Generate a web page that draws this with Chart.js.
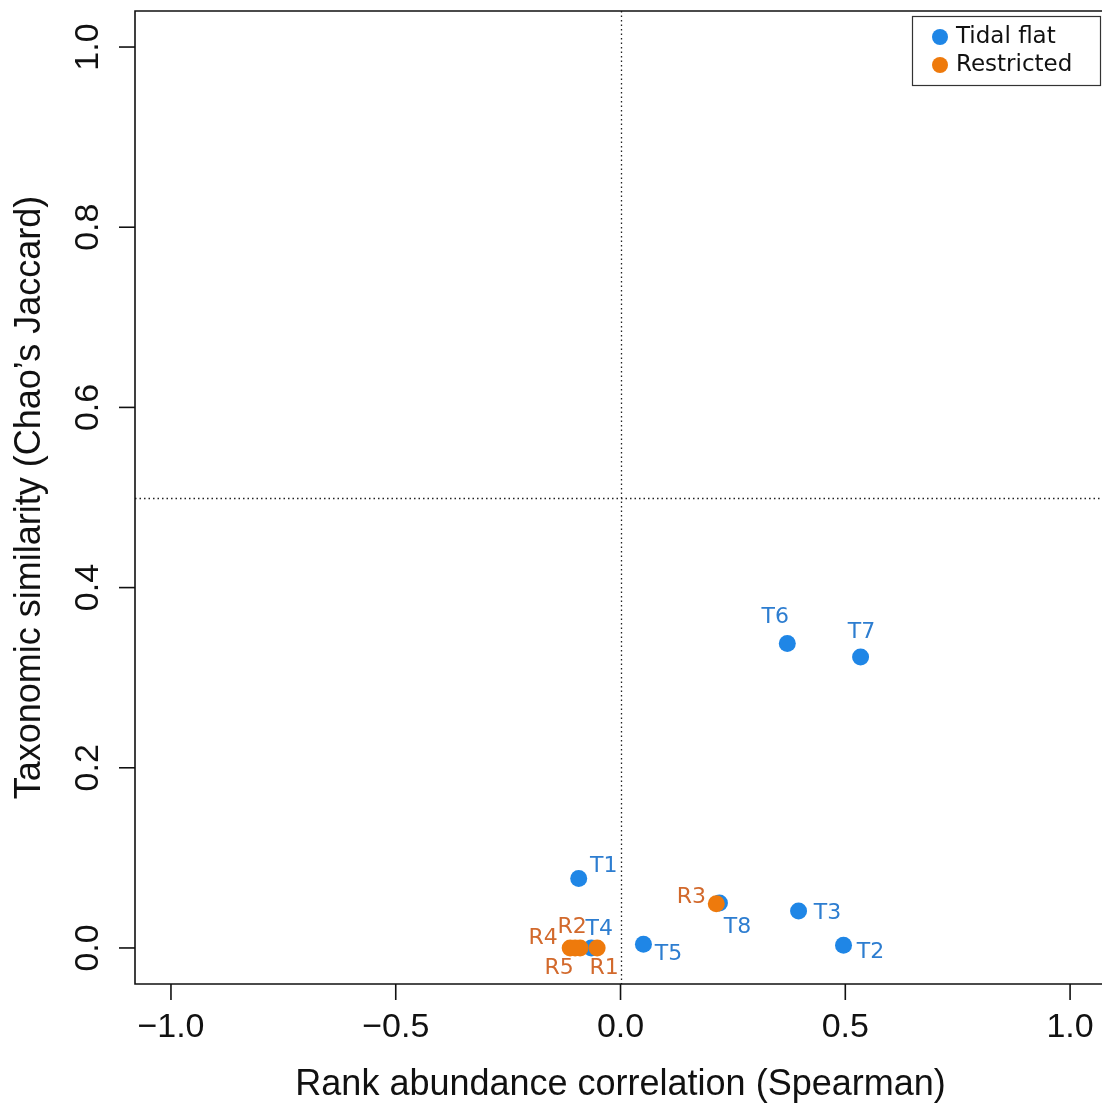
<!DOCTYPE html>
<html>
<head>
<meta charset="utf-8">
<script src="https://cdn.jsdelivr.net/npm/chart.js@4/dist/chart.umd.min.js"></script>
<style>
  html, body { margin: 0; padding: 0; background: #fff; overflow: hidden; }
  #chart { display: block; }
</style>
</head>
<body>
<canvas id="chart" width="1102" height="1107"></canvas>
<script>
// sites and values
const tidalNames = ['T1', 'T2', 'T3', 'T4', 'T5', 'T6', 'T7', 'T8'];
const tidalX = [-0.093, 0.496, 0.396, -0.065, 0.051, 0.371, 0.534, 0.220];
const tidalY = [0.077, 0.003, 0.041, 0.0, 0.004, 0.338, 0.323, 0.050];

const restrictedNames = ['R1', 'R2', 'R3', 'R4', 'R5'];
const restrictedX = [-0.052, -0.090, 0.213, -0.112, -0.101];
const restrictedY = [0.0, 0.0, 0.049, 0.0, 0.0];

const xTicks = [-1.0, -0.5, 0.0, 0.5, 1.0];
const xTickLabels = ['\u22121.0', '\u22120.5', '0.0', '0.5', '1.0'];
const yTicks = [0.0, 0.2, 0.4, 0.6, 0.8, 1.0];
const yTickLabels = ['0.0', '0.2', '0.4', '0.6', '0.8', '1.0'];

// label offsets (px) from each point, like the text() placement in the figure
const labelOffsets = {
    T1: [25, -12], T2: [27, 7], T3: [29, 2], T4: [8, -19], T5: [25, 10],
    T6: [-12, -26], T7: [1, -25], T8: [18, 24],
    R1: [7, 20], R2: [-8, -21], R3: [-25, -7], R4: [-27, -10], R5: [-16, 20]
};

const BLUE = '#1f86e6';
const ORANGE = '#ee7a0c';
const BLUE_TXT = '#2d7dd0';
const ORANGE_TXT = '#d2692c';

const toPts = (xs, ys) => xs.map((x, i) => ({ x: x, y: ys[i] }));

const pointLabels = {
    id: 'pointLabels',
    afterDatasetsDraw(chart) {
        const ctx = chart.ctx;
        ctx.save();
        ctx.font = '22px "DejaVu Sans", Verdana, sans-serif';
        ctx.textAlign = 'center';
        ctx.textBaseline = 'middle';
        chart.data.datasets.forEach((ds, i) => {
            const meta = chart.getDatasetMeta(i);
            ctx.fillStyle = ds.labelColor;
            meta.data.forEach((pt, j) => {
                const name = ds.names[j];
                const off = labelOffsets[name] || [0, -20];
                ctx.fillText(name, pt.x + off[0], pt.y + off[1]);
            });
        });
        ctx.restore();
    }
};

const rAxes = {
    id: 'rAxes',
    beforeDatasetsDraw(chart) {
        const { ctx, chartArea: a, scales: { x, y } } = chart;
        ctx.save();
        ctx.strokeStyle = '#222';
        ctx.lineWidth = 1.3;
        ctx.setLineDash([1.5, 3]);
        const x0 = Math.round(x.getPixelForValue(0)) + 0.5;
        const yh = Math.round(y.getPixelForValue(0.5)) + 0.5;
        ctx.beginPath();
        ctx.moveTo(x0, a.top); ctx.lineTo(x0, a.bottom);
        ctx.moveTo(a.left, yh); ctx.lineTo(a.right, yh);
        ctx.stroke();
        ctx.restore();
    },
    afterDraw(chart) {
        const { ctx, chartArea: a, scales: { x, y } } = chart;
        ctx.save();
        ctx.strokeStyle = '#111';
        ctx.lineWidth = 1.6;
        // frame: right side falls outside the cropped figure
        ctx.beginPath();
        ctx.moveTo(a.right + 10, a.top);
        ctx.lineTo(a.left, a.top);
        ctx.lineTo(a.left, a.bottom);
        ctx.lineTo(a.right + 10, a.bottom);
        ctx.stroke();

        ctx.fillStyle = '#111';
        ctx.font = '34px "Liberation Sans", Arial, sans-serif';
        ctx.textAlign = 'center';
        ctx.textBaseline = 'middle';
        xTicks.forEach((v, i) => {
            const px = x.getPixelForValue(v);
            ctx.beginPath();
            ctx.moveTo(px, a.bottom); ctx.lineTo(px, a.bottom + 16);
            ctx.stroke();
            ctx.fillText(xTickLabels[i], px, a.bottom + 44);
        });
        yTicks.forEach((v, i) => {
            const py = y.getPixelForValue(v);
            ctx.beginPath();
            ctx.moveTo(a.left, py); ctx.lineTo(a.left - 16, py);
            ctx.stroke();
            ctx.save();
            ctx.translate(a.left - 46, py);
            ctx.rotate(-Math.PI / 2);
            ctx.fillText(yTickLabels[i], 0, 0);
            ctx.restore();
        });

        ctx.font = '36px "Liberation Sans", Arial, sans-serif';
        ctx.fillText('Rank abundance correlation (Spearman)', x.getPixelForValue(0), 1085);
        ctx.save();
        ctx.translate(30, y.getPixelForValue(0.5));
        ctx.rotate(-Math.PI / 2);
        ctx.fillText('Taxonomic similarity (Chao\u2019s Jaccard)', 0, 0);
        ctx.restore();

        // legend box, top right
        ctx.lineWidth = 1.2;
        ctx.strokeStyle = '#333';
        ctx.fillStyle = '#fff';
        ctx.fillRect(912, 16, 188, 69);
        ctx.strokeRect(912.5, 16.5, 188, 69);
        ctx.font = '23px "DejaVu Sans", Verdana, sans-serif';
        ctx.textAlign = 'left';
        chart.data.datasets.forEach((ds, i) => {
            const cy = 37 + i * 28;
            ctx.fillStyle = ds.backgroundColor;
            ctx.beginPath();
            ctx.arc(940, cy, 8, 0, Math.PI * 2);
            ctx.fill();
            ctx.fillStyle = '#111';
            ctx.fillText(ds.label, 956, cy);
        });
        ctx.restore();
    }
};

new Chart(document.getElementById('chart'), {
    type: 'scatter',
    data: {
        datasets: [
            {
                label: 'Tidal flat',
                names: tidalNames,
                data: toPts(tidalX, tidalY),
                backgroundColor: BLUE,
                borderWidth: 0,
                pointRadius: 8.5,
                labelColor: BLUE_TXT,
                order: 2
            },
            {
                label: 'Restricted',
                names: restrictedNames,
                data: toPts(restrictedX, restrictedY),
                backgroundColor: ORANGE,
                borderWidth: 0,
                pointRadius: 8.5,
                labelColor: ORANGE_TXT,
                order: 1
            }
        ]
    },
    options: {
        responsive: false,
        animation: false,
        events: [],
        layout: { autoPadding: false, padding: { top: 11, right: 0, bottom: 0, left: 0 } },
        plugins: { legend: { display: false }, tooltip: { enabled: false } },
        scales: {
            x: {
                // figure is cropped on the right, just before the frame
                type: 'linear', min: -1.08, max: 1.071,
                grid: { display: false }, border: { display: false },
                ticks: { display: false },
                afterFit: s => { s.height = 123; }
            },
            y: {
                type: 'linear', min: -0.04, max: 1.04,
                grid: { display: false }, border: { display: false },
                ticks: { display: false },
                afterFit: s => { s.width = 135; }
            }
        }
    },
    plugins: [rAxes, pointLabels]
});
</script>
</body>
</html>
